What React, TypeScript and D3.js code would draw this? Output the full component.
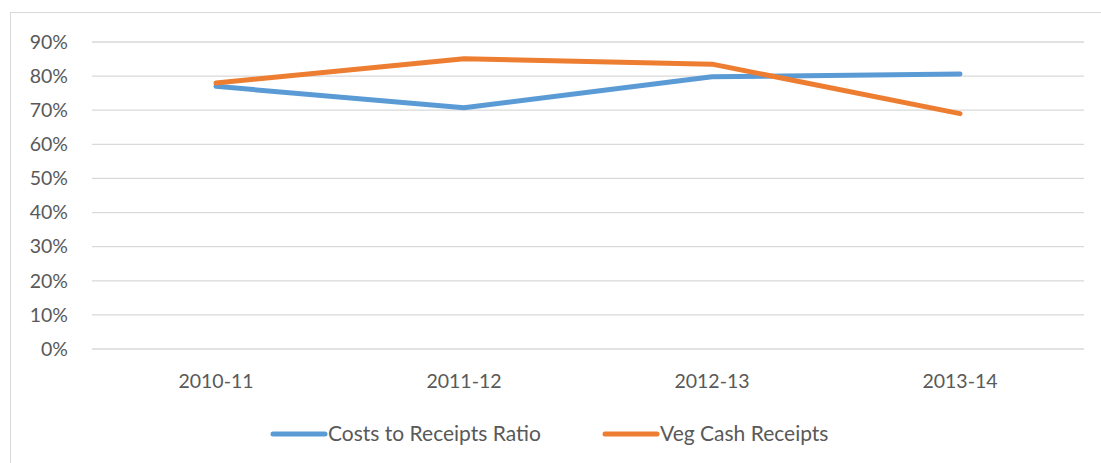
import * as React from 'react';
import * as d3 from 'd3';

const categories = ['2010-11', '2011-12', '2012-13', '2013-14'];
const costsToReceipts = [0.77, 0.707, 0.798, 0.806];
const vegCashReceipts = [0.78, 0.851, 0.835, 0.69];
const yTicks = [0, 0.1, 0.2, 0.3, 0.4, 0.5, 0.6, 0.7, 0.8, 0.9];
const seriesNames = ['Costs to Receipts Ratio', 'Veg Cash Receipts'];
const seriesColors = ['#5b9bd5', '#ed7d31'];

const W = 1101;
const H = 463;
const margin = { top: 42, right: 17, bottom: 114, left: 92 };
const font = "Lato, sans-serif";
const fs = 19.5;

export default function App() {
  const x = d3
    .scaleBand()
    .domain(categories)
    .range([margin.left, W - margin.right]);
  const y = d3
    .scaleLinear()
    .domain([0, 0.9])
    .range([H - margin.bottom, margin.top]);

  const line = d3
    .line<number>()
    .x((d, i) => x(categories[i])! + x.bandwidth() / 2)
    .y(d => y(d));

  const series = [costsToReceipts, vegCashReceipts];
  const legendX = [273, 605];

  return (
    <svg
      width={W}
      height={H}
      style={{ position: 'absolute', left: 0, top: 0, background: '#fff' }}
    >
      <rect x={10.5} y={12.5} width={W} height={H} fill="#fff" stroke="#d9d9d9" />
      {yTicks.map(t => (
        <g key={t}>
          <line
            x1={margin.left}
            x2={W - margin.right}
            y1={y(t)}
            y2={y(t)}
            stroke="#d9d9d9"
            strokeWidth={1.3}
          />
          <text
            x={68}
            y={y(t)}
            dy="0.35em"
            textAnchor="end"
            fontFamily={font}
            fontSize={fs}
            fill="#595959"
          >
            {d3.format('.0%')(t)}
          </text>
        </g>
      ))}
      {categories.map(c => (
        <text
          key={c}
          x={x(c)! + x.bandwidth() / 2}
          y={388}
          textAnchor="middle"
          fontFamily={font}
          fontSize={fs}
          fill="#595959"
        >
          {c}
        </text>
      ))}
      {series.map((s, i) => (
        <path
          key={i}
          d={line(s)!}
          fill="none"
          stroke={seriesColors[i]}
          strokeWidth={5}
          strokeLinecap="round"
          strokeLinejoin="round"
        />
      ))}
      {seriesNames.map((n, i) => (
        <g key={n}>
          <line
            x1={legendX[i]}
            x2={legendX[i] + 52}
            y1={434}
            y2={434}
            stroke={seriesColors[i]}
            strokeWidth={5}
            strokeLinecap="round"
          />
          <text
            x={legendX[i] + 55}
            y={441}
            fontFamily={font}
            fontSize={21}
            fill="#595959"
          >
            {n}
          </text>
        </g>
      ))}
    </svg>
  );
}
